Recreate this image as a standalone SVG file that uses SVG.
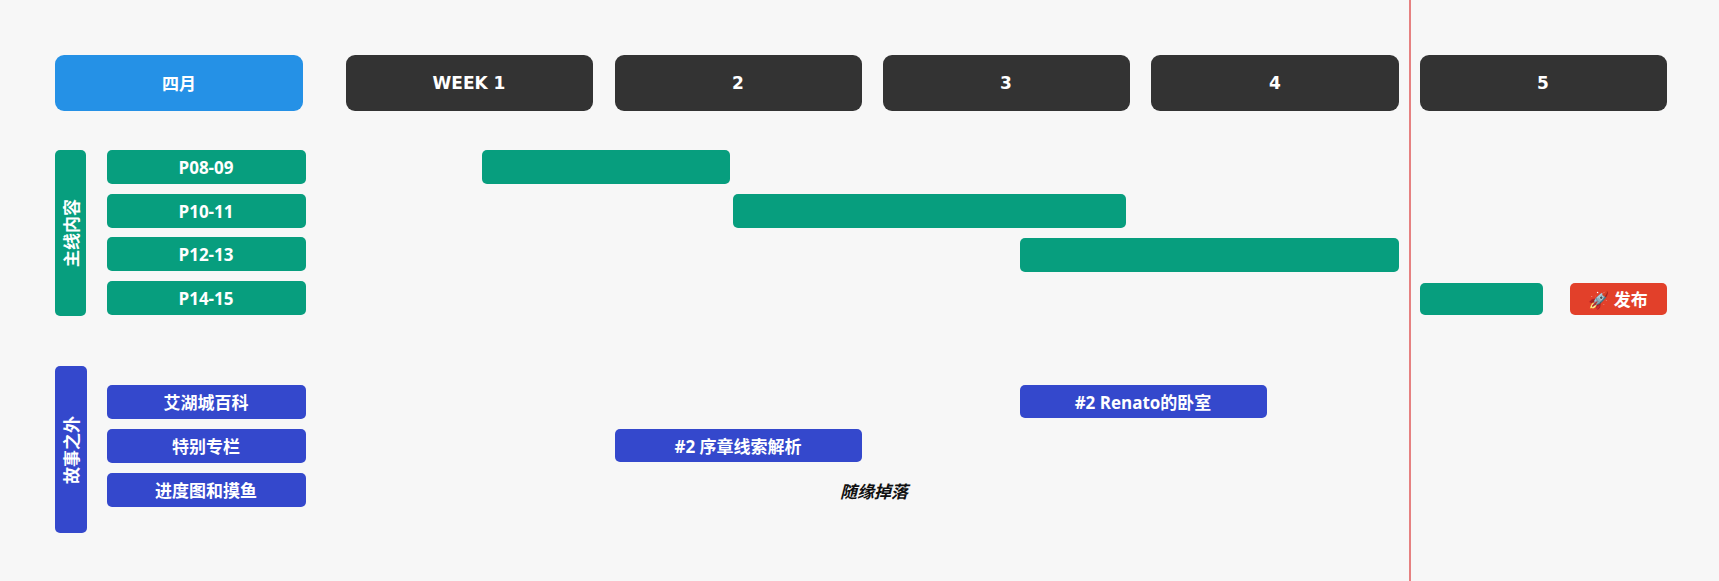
<svg xmlns="http://www.w3.org/2000/svg" width="1719" height="581" viewBox="0 0 1719 581">
<style>
text{font-family:"Open Sans","Noto Sans CJK SC",sans-serif;font-weight:bold;fill:#fff;text-anchor:middle;dominant-baseline:central}
.wk{fill:#333}
.g{fill:#079e7e}
.b{fill:#3448cc}
.t{font-size:17px}
.h{font-size:17px;font-family:"DejaVu Sans","Noto Sans CJK SC",sans-serif}
</style>
<rect width="1719" height="581" fill="#f7f7f7"/>
<g id="month"><rect x="55" y="55" width="248" height="56" rx="9" fill="#2591e6"/><text class="t" x="179" y="83">四月</text></g>
<g id="week1"><rect class="wk" x="346" y="55" width="247" height="56" rx="9"/><text class="h" x="469" y="83">WEEK 1</text></g>
<g id="week2"><rect class="wk" x="615" y="55" width="247" height="56" rx="9"/><text class="h" x="738" y="83">2</text></g>
<g id="week3"><rect class="wk" x="883" y="55" width="247" height="56" rx="9"/><text class="h" x="1006" y="83">3</text></g>
<g id="week4"><rect class="wk" x="1151" y="55" width="248" height="56" rx="9"/><text class="h" x="1275" y="83">4</text></g>
<g id="week5"><rect class="wk" x="1420" y="55" width="247" height="56" rx="9"/><text class="h" x="1543" y="83">5</text></g>
<g id="today"><line x1="1410" y1="0" x2="1410" y2="581" stroke="#e05a5a" stroke-width="1.5"/></g>
<g id="main"><rect class="g" x="55" y="150" width="31" height="166" rx="5"/><text class="t" transform="translate(71 233) rotate(-90)">主线内容</text></g>
<g id="p0809"><rect class="g" x="107" y="150" width="199" height="34" rx="5"/><text class="t" x="206" y="167">P08-09</text></g>
<g id="p1011"><rect class="g" x="107" y="194" width="199" height="34" rx="5"/><text class="t" x="206" y="211">P10-11</text></g>
<g id="p1213"><rect class="g" x="107" y="237" width="199" height="34" rx="5"/><text class="t" x="206" y="254">P12-13</text></g>
<g id="p1415"><rect class="g" x="107" y="281" width="199" height="34" rx="5"/><text class="t" x="206" y="298">P14-15</text></g>
<g id="bar1"><rect class="g" x="482" y="150" width="248" height="34" rx="5"/></g>
<g id="bar2"><rect class="g" x="733" y="194" width="393" height="34" rx="5"/></g>
<g id="bar3"><rect class="g" x="1020" y="238" width="379" height="34" rx="5"/></g>
<g id="bar4"><rect class="g" x="1420" y="283" width="123" height="32" rx="5"/></g>
<g id="release"><rect x="1570" y="283" width="97" height="32" rx="5" fill="#e2402a"/><text class="t" x="1618" y="299">🚀 发布</text></g>
<g id="extra"><rect class="b" x="55" y="366" width="32" height="167" rx="5"/><text class="t" transform="translate(71 450) rotate(-90)">故事之外</text></g>
<g id="wiki"><rect class="b" x="107" y="385" width="199" height="34" rx="5"/><text class="t" x="206" y="402">艾湖城百科</text></g>
<g id="column"><rect class="b" x="107" y="429" width="199" height="34" rx="5"/><text class="t" x="206" y="446">特别专栏</text></g>
<g id="progress"><rect class="b" x="107" y="473" width="199" height="34" rx="5"/><text class="t" x="206" y="490">进度图和摸鱼</text></g>
<g id="renato"><rect class="b" x="1020" y="385" width="247" height="33" rx="5"/><text class="t" x="1143" y="402">#2 Renato的卧室</text></g>
<g id="prologue"><rect class="b" x="615" y="429" width="247" height="33" rx="5"/><text class="t" x="738" y="446">#2 序章线索解析</text></g>
<g id="random"><text class="t" x="874" y="491" style="fill:#111;font-style:italic">随缘掉落</text></g>
<g id="connectors"/>
</svg>
